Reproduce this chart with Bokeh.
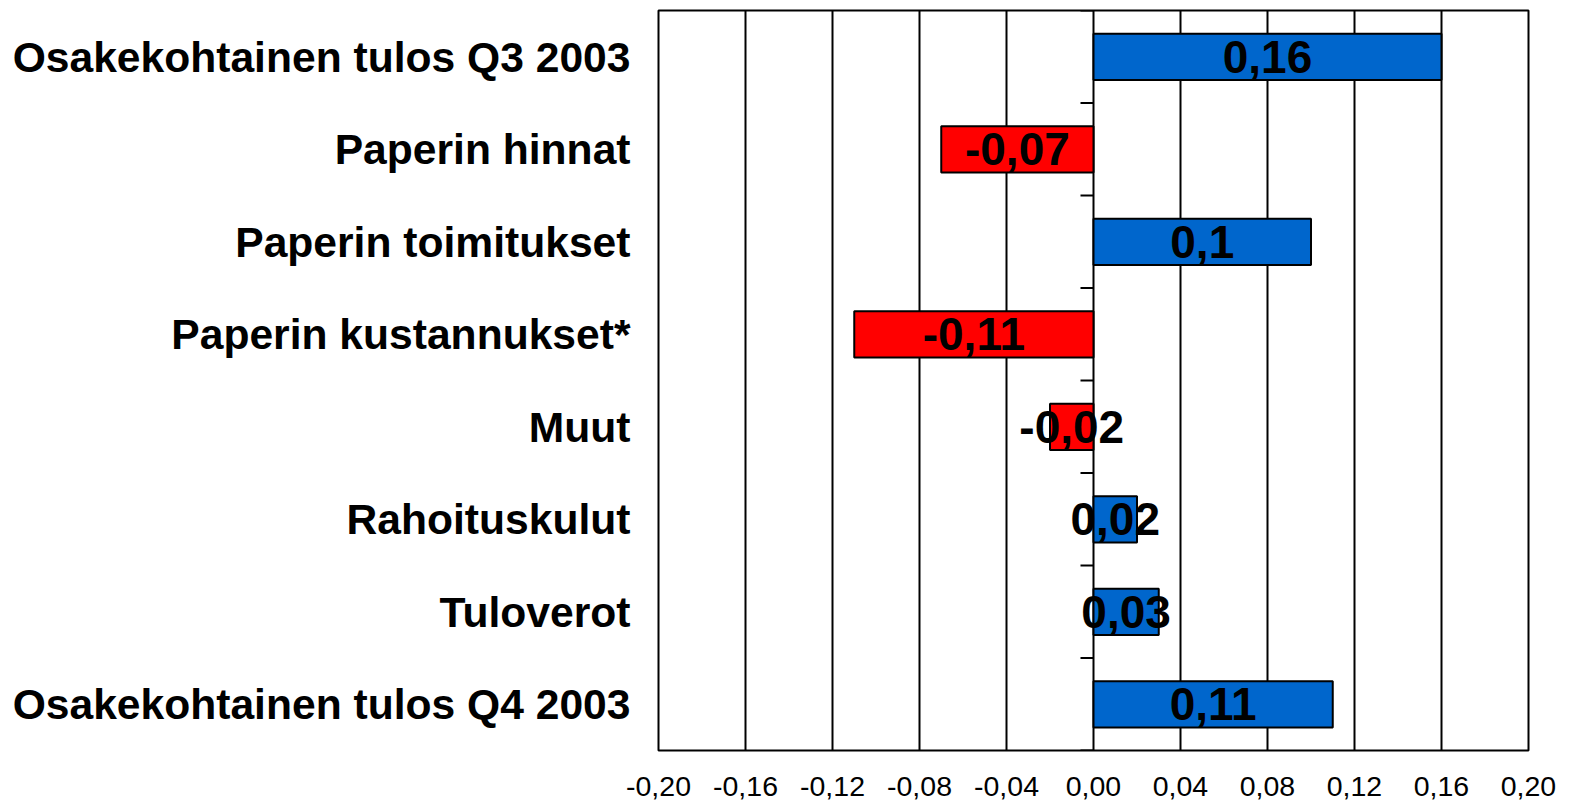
from bokeh.plotting import figure
from bokeh.models import FixedTicker, ColumnDataSource, Range1d
from bokeh.core.properties import value
from bokeh.embed import file_html
from bokeh.resources import INLINE

categories = [
    "Osakekohtainen tulos Q3 2003",
    "Paperin hinnat",
    "Paperin toimitukset",
    "Paperin kustannukset*",
    "Muut",
    "Rahoituskulut",
    "Tuloverot",
    "Osakekohtainen tulos Q4 2003",
]
values = [0.16, -0.07, 0.10, -0.11, -0.02, 0.02, 0.03, 0.11]
value_labels = ["0,16", "-0,07", "0,1", "-0,11", "-0,02", "0,02", "0,03", "0,11"]
x_ticks = [-0.20, -0.16, -0.12, -0.08, -0.04, 0.0, 0.04, 0.08, 0.12, 0.16, 0.20]
x_tick_labels = ["-0,20", "-0,16", "-0,12", "-0,08", "-0,04", "0,00",
                 "0,04", "0,08", "0,12", "0,16", "0,20"]

FONT = "Liberation Sans"
BLUE = "#0066CC"
RED = "#FF0000"

n = len(categories)
pos = list(range(n))
colors = [BLUE if v >= 0 else RED for v in values]

p = figure(
    width=1565, height=802,
    x_range=Range1d(x_ticks[0], x_ticks[-1]),
    y_range=Range1d(n - 0.5, -0.5),
    output_backend="svg", toolbar_location=None,
    min_border_left=658, min_border_right=37,
    min_border_top=10, min_border_bottom=52,
)
p.background_fill_color = "white"
p.border_fill_color = "white"
p.outline_line_color = "black"
p.outline_line_width = 2

# grid
p.xgrid.ticker = FixedTicker(ticks=x_ticks)
p.xgrid.grid_line_color = "black"
p.xgrid.grid_line_width = 2
p.ygrid.grid_line_color = None

# x axis
p.xaxis.ticker = FixedTicker(ticks=x_ticks)
p.xaxis.major_label_overrides = {t: l for t, l in zip(x_ticks, x_tick_labels)}
p.xaxis.axis_line_color = None
p.xaxis.major_tick_line_color = None
p.xaxis.minor_tick_line_color = None
p.xaxis.major_label_text_font = FONT
p.xaxis.major_label_text_font_size = "28.5px"
p.xaxis.major_label_text_color = "black"
p.xaxis.major_label_standoff = 20

# y axis (category labels)
p.yaxis.ticker = FixedTicker(ticks=pos)
p.yaxis.major_label_overrides = {i: c for i, c in zip(pos, categories)}
p.yaxis.axis_line_color = None
p.yaxis.major_tick_line_color = None
p.yaxis.minor_tick_line_color = None
p.yaxis.major_label_text_font = FONT
p.yaxis.major_label_text_font_style = "bold"
p.yaxis.major_label_text_font_size = "42.6px"
p.yaxis.major_label_text_color = "black"
p.yaxis.major_label_standoff = 22

# small ticks on the zero axis between categories
span = x_ticks[-1] - x_ticks[0]
tick_len = span * 13 / 870
bounds = [i - 0.5 for i in range(n + 1)]
p.segment(x0=[0] * len(bounds), x1=[-tick_len] * len(bounds), y0=bounds, y1=bounds,
          line_color="black", line_width=2)

src = ColumnDataSource(dict(
    y=pos, right=values, left=[0] * n, color=colors,
    mid=[v / 2 for v in values], label=value_labels,
))
p.hbar(y="y", left="left", right="right", height=0.5, source=src,
       fill_color="color", line_color="black", line_width=2)

p.text(x="mid", y="y", text="label", source=src,
       text_font=value(FONT), text_font_style="bold", text_font_size="46px",
       text_align="center", text_baseline="middle", text_color="black")

open("out.html", "w").write(file_html(p, INLINE))
